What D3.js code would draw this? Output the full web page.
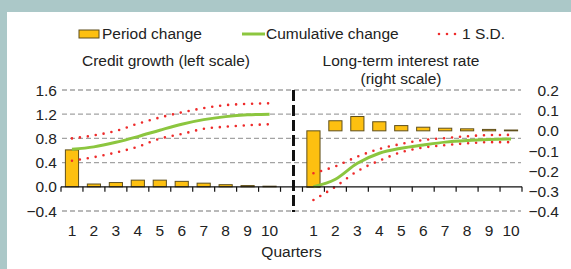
<!DOCTYPE html>
<html>
<head>
<meta charset="utf-8">
<script src="https://cdn.jsdelivr.net/npm/d3@7"></script>
<style>
  body { margin: 0; }
  svg { display: block; font-family: "Liberation Sans", Arial, sans-serif; }
</style>
</head>
<body>
<svg id="chart" width="571" height="269"></svg>
<script>
// Data
const quarters = ["1", "2", "3", "4", "5", "6", "7", "8", "9", "10"];

const creditPeriod = [0.61, 0.046, 0.07, 0.11, 0.11, 0.09, 0.06, 0.035, 0.02, 0.01];
const creditCumulative = [0.62, 0.66, 0.735, 0.83, 0.935, 1.035, 1.11, 1.16, 1.19, 1.2];
const creditUpper = [0.8, 0.85, 0.924, 1.043, 1.145, 1.23, 1.3, 1.35, 1.37, 1.38];
const creditLower = [0.43, 0.49, 0.566, 0.663, 0.795, 0.873, 0.958, 0.993, 1.018, 1.033];

const ratePeriod = [-0.28, 0.05, 0.071, 0.045, 0.026, 0.018, 0.013, 0.01, 0.007, 0.004];
const rateCumulative = [-0.277, -0.24, -0.161, -0.111, -0.086, -0.07, -0.056, -0.048, -0.043, -0.04];
const rateUpper = [-0.21, -0.176, -0.128, -0.09, -0.065, -0.046, -0.036, -0.027, -0.021, -0.02];
const rateLower = [-0.343, -0.277, -0.2, -0.148, -0.106, -0.083, -0.071, -0.062, -0.056, -0.056];

const leftTicks = [1.6, 1.2, 0.8, 0.4, 0.0, -0.4];
const rightTicks = [0.2, 0.1, 0.0, -0.1, -0.2, -0.3, -0.4];

const barFill = "#fdc010";
const barStroke = "#5f4f1c";
const green = "#8cc63f";
const red = "#ee2b2b";
const fontSize = "15.5px";

const svg = d3.select("#chart");

// Background frame
svg.append("rect").attr("width", 571).attr("height", 269).attr("fill", "#abc8c8");
svg.append("rect").attr("x", 7).attr("y", 12).attr("width", 564).attr("height", 257).attr("fill", "#fff");

// One category axis: left quarters, a gap slot, right quarters
const slots = quarters.map((q) => "L" + q).concat(["gap"], quarters.map((q) => "R" + q));
const x = d3.scaleBand().domain(slots).range([61, 522]).paddingInner(0.4).paddingOuter(0.2);
const step = x.step();
const center = (k) => x(k) + x.bandwidth() / 2;

const yL = d3.scaleLinear().domain([-0.4, 1.6]).range([211, 90]);
const yR = d3.scaleLinear().domain([-0.4, 0.2]).range([211.5, 90.5]);

// Gridlines
svg.append("g")
  .selectAll("line")
  .data(leftTicks.filter((d) => d !== 0))
  .join("line")
  .attr("x1", 62)
  .attr("x2", 521)
  .attr("y1", (d) => yL(d))
  .attr("y2", (d) => yL(d))
  .attr("stroke", "#a3a3a3")
  .attr("stroke-width", 1.3)
  .attr("stroke-dasharray", "5,3");

// Left scale labels
svg.append("g")
  .selectAll("text")
  .data(leftTicks)
  .join("text")
  .attr("x", 57)
  .attr("y", (d) => yL(d))
  .attr("dy", "0.36em")
  .attr("text-anchor", "end")
  .attr("font-size", fontSize)
  .attr("fill", "#222")
  .text((d) => d3.format(".1f")(d).replace("-", "\u2212"));

// Right scale labels
svg.append("g")
  .selectAll("text")
  .data(rightTicks)
  .join("text")
  .attr("x", 559)
  .attr("y", (d) => yR(d))
  .attr("dy", "0.36em")
  .attr("text-anchor", "end")
  .attr("font-size", fontSize)
  .attr("fill", "#222")
  .text((d) => d3.format(".1f")(d).replace("-", "\u2212"));

// Bars
function drawBars(prefix, values, y) {
  svg.append("g")
    .selectAll("rect")
    .data(values)
    .join("rect")
    .attr("x", (d, i) => x(prefix + quarters[i]))
    .attr("y", (d) => Math.min(y(d), y(0)))
    .attr("width", x.bandwidth())
    .attr("height", (d) => Math.abs(y(d) - y(0)))
    .attr("fill", barFill)
    .attr("stroke", barStroke)
    .attr("stroke-width", 1);
}
drawBars("L", creditPeriod, yL);
drawBars("R", ratePeriod, yR);

// Lines
function drawLine(prefix, values, y, dotted) {
  const line = d3.line()
    .x((d, i) => center(prefix + quarters[i]))
    .y((d) => y(d))
    .curve(d3.curveMonotoneX);
  const p = svg.append("path")
    .attr("d", line(values))
    .attr("fill", "none");
  if (dotted) {
    p.attr("stroke", red).attr("stroke-width", 2.6)
      .attr("stroke-linecap", "round").attr("stroke-dasharray", "0,8");
  } else {
    p.attr("stroke", green).attr("stroke-width", 3);
  }
}
drawLine("L", creditUpper, yL, true);
drawLine("L", creditLower, yL, true);
drawLine("L", creditCumulative, yL, false);
drawLine("R", rateUpper, yR, true);
drawLine("R", rateLower, yR, true);
drawLine("R", rateCumulative, yR, false);

// X axis at the left-scale zero
const axisY = yL(0);
svg.append("line")
  .attr("x1", 61).attr("x2", 522)
  .attr("y1", axisY).attr("y2", axisY)
  .attr("stroke", "#111").attr("stroke-width", 1.3);
svg.append("g")
  .selectAll("line")
  .data(slots.concat(["end"]))
  .join("line")
  .attr("x1", (d, i) => 61 + i * step)
  .attr("x2", (d, i) => 61 + i * step)
  .attr("y1", axisY)
  .attr("y2", axisY + 5)
  .attr("stroke", "#111")
  .attr("stroke-width", 1.2);

// Quarter labels
svg.append("g")
  .selectAll("text")
  .data(slots.filter((d) => d !== "gap"))
  .join("text")
  .attr("x", (d) => center(d))
  .attr("y", 236)
  .attr("text-anchor", "middle")
  .attr("font-size", fontSize)
  .attr("fill", "#222")
  .text((d) => d.slice(1));

svg.append("text")
  .attr("x", center("gap"))
  .attr("y", 257)
  .attr("text-anchor", "middle")
  .attr("font-size", fontSize)
  .attr("fill", "#222")
  .text("Quarters");

// Divider between panels
svg.append("line")
  .attr("x1", center("gap") + 2).attr("x2", center("gap") + 2)
  .attr("y1", 90).attr("y2", 212)
  .attr("stroke", "#111").attr("stroke-width", 3)
  .attr("stroke-dasharray", "11,4");

// Panel titles
svg.append("text")
  .attr("x", 166).attr("y", 66)
  .attr("text-anchor", "middle").attr("font-size", fontSize).attr("fill", "#222")
  .text("Credit growth (left scale)");
svg.append("text")
  .attr("x", 401).attr("y", 65.5)
  .attr("text-anchor", "middle").attr("font-size", fontSize).attr("fill", "#222")
  .text("Long-term interest rate");
svg.append("text")
  .attr("x", 401).attr("y", 84)
  .attr("text-anchor", "middle").attr("font-size", fontSize).attr("fill", "#222")
  .text("(right scale)");

// Legend
const legend = svg.append("g");
legend.append("rect")
  .attr("x", 79).attr("y", 30).attr("width", 20).attr("height", 8)
  .attr("fill", barFill).attr("stroke", barStroke);
legend.append("text")
  .attr("x", 102).attr("y", 39)
  .attr("font-size", fontSize).attr("fill", "#222")
  .text("Period change");
legend.append("line")
  .attr("x1", 242).attr("x2", 265).attr("y1", 34).attr("y2", 34)
  .attr("stroke", green).attr("stroke-width", 3);
legend.append("text")
  .attr("x", 266).attr("y", 39)
  .attr("font-size", fontSize).attr("fill", "#222")
  .text("Cumulative change");
legend.append("line")
  .attr("x1", 439).attr("x2", 456).attr("y1", 34).attr("y2", 34)
  .attr("stroke", red).attr("stroke-width", 2.6)
  .attr("stroke-linecap", "round").attr("stroke-dasharray", "0,8");
legend.append("text")
  .attr("x", 462).attr("y", 39)
  .attr("font-size", fontSize).attr("fill", "#222")
  .text("1 S.D.");
</script>
</body>
</html>
